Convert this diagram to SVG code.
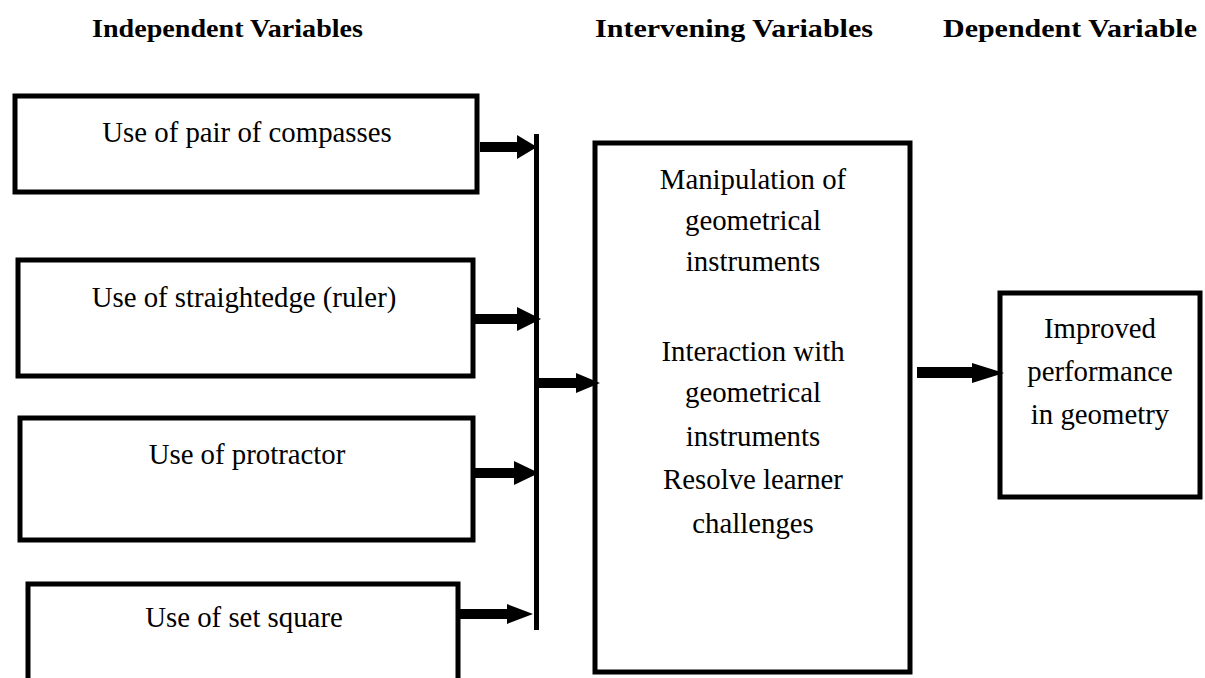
<svg xmlns="http://www.w3.org/2000/svg" width="1205" height="678" viewBox="0 0 1205 678">
<style>
.box{fill:#fff;stroke:#000;stroke-width:5}
.t{font-family:'Times New Roman','Liberation Serif',Tinos,serif;font-size:28.8px;fill:#000;text-anchor:middle}
.h{font-family:'Times New Roman','Liberation Serif',Tinos,serif;font-size:25px;font-weight:bold;fill:#000}
.arr{fill:#000;stroke:none}
</style>
<rect width="1205" height="678" fill="#fff"/>
<g id="headers">
<text class="h" x="92" y="37" textLength="271" lengthAdjust="spacingAndGlyphs">Independent Variables</text>
<text class="h" x="595" y="37" textLength="278" lengthAdjust="spacingAndGlyphs">Intervening Variables</text>
<text class="h" x="943" y="37" textLength="254" lengthAdjust="spacingAndGlyphs">Dependent Variable</text>
</g>
<g id="node-compasses">
<rect class="box" x="15" y="96" width="462" height="96"/>
<text class="t" x="247" y="142">Use of pair of compasses</text>
</g>
<g id="node-straightedge">
<rect class="box" x="18" y="260" width="455" height="116"/>
<text class="t" x="244" y="307">Use of straightedge (ruler)</text>
</g>
<g id="node-protractor">
<rect class="box" x="20" y="418" width="453" height="122"/>
<text class="t" x="247" y="464">Use of protractor</text>
</g>
<g id="node-setsquare">
<rect class="box" x="28" y="584" width="430" height="110"/>
<text class="t" x="244" y="627">Use of set square</text>
</g>
<g id="node-intervening">
<rect class="box" x="595" y="143" width="315" height="529"/>
<text class="t" x="753" y="189">Manipulation of</text>
<text class="t" x="753" y="230">geometrical</text>
<text class="t" x="753" y="271">instruments</text>
<text class="t" x="753" y="361">Interaction with</text>
<text class="t" x="753" y="402">geometrical</text>
<text class="t" x="753" y="446">instruments</text>
<text class="t" x="753" y="489">Resolve learner</text>
<text class="t" x="753" y="533">challenges</text>
</g>
<g id="node-dependent">
<rect class="box" x="1000" y="293" width="200" height="204"/>
<text class="t" x="1100" y="338">Improved</text>
<text class="t" x="1100" y="381">performance</text>
<text class="t" x="1100" y="424">in geometry</text>
</g>
<g id="connectors">
<rect class="arr" x="534" y="134" width="5" height="496"/>
<path class="arr" d="M480,142 H517 V135 L537,147 L517,159 V152 H480 Z"/>
<path class="arr" d="M475,314 H517 V307 L541,319 L517,331 V324 H475 Z"/>
<path class="arr" d="M475,468 H514 V461 L539,473 L514,485 V478 H475 Z"/>
<path class="arr" d="M460,609 H507 V604 L533,614 L507,624 V619 H460 Z"/>
<path class="arr" d="M534,378 H576 V373 L600,383 L576,393 V388 H534 Z"/>
<path class="arr" d="M917,367 H972 V363 L1004,373 L972,383 V378 H917 Z"/>
</g>
</svg>
